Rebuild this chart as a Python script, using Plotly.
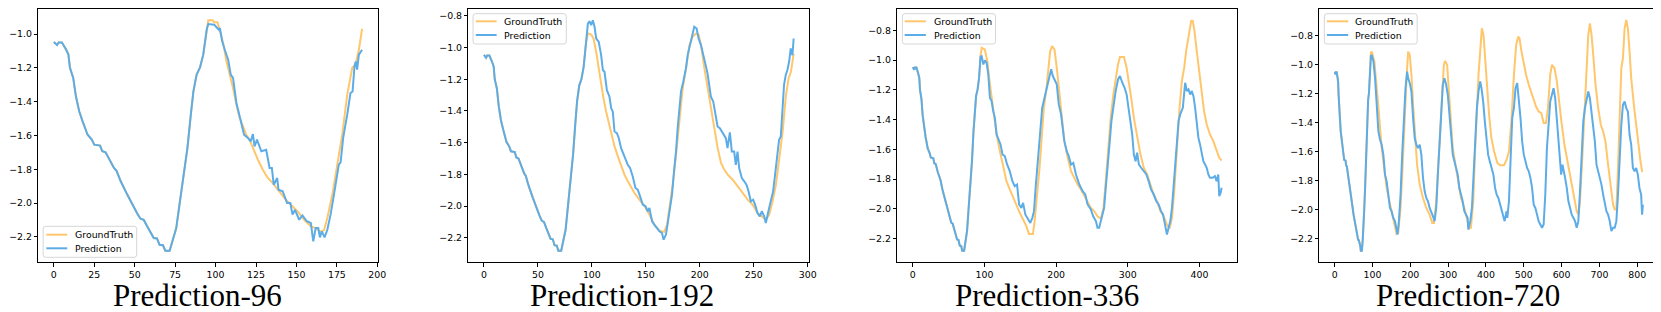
import plotly.graph_objects as go

FIG_W, FIG_H = 1661, 312

# ---------------- data ----------------
# shared look-back window (identical in all four panels)
INPUT_X = [0, 2, 3, 5, 7.5, 9, 10, 12, 13.7, 15.7, 17.8, 20.9, 23.5, 25, 28.6, 30, 32, 34.8,
           37.2, 38.8, 41.3, 45.4, 49.5, 51.5, 53.6, 55.6, 57.7, 59.7, 61.8, 63.8, 65.4, 67.5,
           68.9, 71.6, 74, 75.7, 77.7, 80.2, 82.6, 84.7, 86.3, 88.3, 90.4, 92.4, 94.5]
INPUT_Y = [-1.047, -1.065, -1.05, -1.05, -1.09, -1.12, -1.2, -1.26, -1.37, -1.457, -1.517, -1.596,
           -1.625, -1.655, -1.66, -1.694, -1.70, -1.753, -1.793, -1.81, -1.87, -1.95, -2.03, -2.06,
           -2.093, -2.10, -2.138, -2.168, -2.207, -2.21, -2.247, -2.25, -2.282, -2.282, -2.207,
           -2.148, -2.01, -1.852, -1.675, -1.477, -1.339, -1.24, -1.197, -1.122, -0.975]

# ---- Prediction-96 ----
P96_GT_X = [95.5, 98.2, 99.2, 101.2, 102.7, 104.7, 106.7, 108.8, 110.8, 112.9, 114.9, 117, 119, 121,
            123.1, 126.2, 129.2, 132.3, 135.4, 138.4, 142.5, 146.6, 150.7, 154.8, 158.9, 162, 165,
            167.1, 169.1, 172.2, 175.3, 178.3, 181.4, 184.5, 186.5, 188.6, 190.6]
P96_GT_Y = [-0.919, -0.919, -0.931, -0.931, -0.984, -1.053, -1.16, -1.24, -1.32, -1.418, -1.497,
            -1.546, -1.596, -1.625, -1.675, -1.744, -1.803, -1.852, -1.882, -1.921, -1.97, -2.01,
            -2.049, -2.099, -2.138, -2.148, -2.17, -2.16, -2.089, -1.95, -1.773, -1.596, -1.359,
            -1.2, -1.181, -1.093, -0.969]
P96_PRED_X = [95.5, 99.2, 100.6, 102.1, 102.7, 104.1, 105.7, 107.8, 109.4, 110.8, 112.9, 114.3,
              115.9, 117.6, 120, 121.7, 123.1, 124.1, 125.6, 128.3, 131.3, 133.4, 134.8, 136,
              138.1, 138.9, 141.5, 144.2, 146.2, 147.6, 149.1, 151.7, 153.7, 156.4, 158.9, 160.4,
              161.9, 163.5, 164.5, 165.7, 167.4, 169.1, 171.1, 173.2, 174.8, 176.2, 177.3, 178.9,
              181.4, 183.4, 184.7, 185.9, 186.7, 187.5, 188.6, 190.6]
P96_PRED_Y = [-0.941, -0.945, -0.96, -0.975, -0.965, -1.043, -1.093, -1.152, -1.24, -1.26, -1.408,
              -1.457, -1.527, -1.596, -1.615, -1.635, -1.592, -1.665, -1.625, -1.694, -1.685,
              -1.793, -1.793, -1.892, -1.852, -1.921, -1.93, -2.0, -2.0, -2.069, -2.04, -2.099,
              -2.073, -2.108, -2.118, -2.227, -2.148, -2.148, -2.203, -2.168, -2.203, -2.158,
              -2.069, -1.95, -1.852, -1.773, -1.76, -1.615, -1.477, -1.349, -1.34, -1.191, -1.162,
              -1.211, -1.122, -1.093]

# ---- Prediction-192 ----
P192_GT_X = [96.3, 99.4, 101.5, 104, 106.4, 108.6, 110.8, 113.2, 115.7, 117.9, 121, 124.1, 127.1,
             130.2, 133.3, 136.4, 139.5, 144.1, 148.7, 153.3, 157.9, 162.6, 167.2, 169.7, 172.4,
             174.9, 177.4, 179.5, 181.7, 184.2, 187.3, 190.4, 193.5, 196.6, 199, 201.2, 204.3,
             207.4, 210.5, 213.6, 216.6, 219.7, 222.8, 225.9, 230.5, 235.2, 239.8, 244.4, 249,
             253.7, 258.3, 261.4, 264.4, 267.5, 270.6, 273.7, 276.8, 279.9, 282.3, 284.5, 287]
P192_GT_Y = [-0.911, -0.918, -0.943, -1.027, -1.132, -1.236, -1.32, -1.404, -1.477, -1.55, -1.624,
             -1.687, -1.75, -1.802, -1.844, -1.886, -1.918, -1.96, -2.0, -2.054, -2.117, -2.155,
             -2.163, -2.117, -1.991, -1.865, -1.719, -1.572, -1.425, -1.257, -1.132, -0.985, -0.93,
             -0.911, -0.92, -0.985, -1.132, -1.257, -1.383, -1.53, -1.635, -1.729, -1.771, -1.802,
             -1.834, -1.876, -1.918, -1.96, -1.991, -2.044, -2.07, -2.085, -2.054, -1.97, -1.865,
             -1.698, -1.53, -1.30, -1.195, -1.153, -1.04]
P192_PRED_X = [96.3, 97.8, 99.4, 100.9, 102.5, 104, 106.4, 108.6, 110.2, 111.7, 113.9, 116.3, 117.9,
               119.4, 121, 123.2, 125, 127.1, 129.3, 131.1, 133.3, 135.4, 137.9, 140.4, 142.5,
               144.7, 147.2, 149.6, 151.8, 153.3, 155.8, 157.9, 160.1, 162.6, 165, 166.5, 168.7,
               170.2, 171.8, 174.3, 176.4, 178, 179.5, 181, 182.6, 184.7, 187.2, 188.8, 190.9,
               192.8, 194.9, 197.1, 198.9, 201.1, 203.2, 205.1, 207.2, 208.8, 210.3, 212.5, 214.3,
               216.5, 218.6, 221.1, 224.2, 225.7, 227.9, 229.7, 231.9, 233.4, 235, 236.5, 239,
               241.2, 243.3, 245.2, 247.3, 249.5, 251.3, 253.5, 255.6, 257.5, 259.7, 261.2, 262.7,
               264.3, 265.8, 268, 269.8, 272, 273.5, 275.1, 276.6, 278.1, 279.7, 281.2, 282.8,
               284.3, 285.9, 287]
P192_PRED_Y = [-0.849, -0.834, -0.859, -0.828, -0.869, -0.943, -0.964, -1.048, -1.142, -1.153,
               -1.268, -1.31, -1.383, -1.404, -1.53, -1.54, -1.572, -1.635, -1.677, -1.708, -1.74,
               -1.76, -1.813, -1.886, -1.897, -1.939, -1.991, -2.0, -2.033, -2.012, -2.096, -2.117,
               -2.138, -2.159, -2.17, -2.212, -2.18, -2.117, -2.033, -1.928, -1.76, -1.655, -1.509,
               -1.383, -1.278, -1.216, -1.132, -1.048, -0.985, -0.922, -0.869, -0.88, -0.943,
               -0.985, -1.037, -1.1, -1.163, -1.236, -1.31, -1.341, -1.404, -1.498, -1.509, -1.54,
               -1.572, -1.635, -1.535, -1.656, -1.656, -1.74, -1.656, -1.76, -1.823, -1.844,
               -1.865, -1.907, -1.97, -1.96, -1.991, -2.044, -2.065, -2.033, -2.065, -2.107,
               -2.054, -2.012, -1.97, -1.907, -1.802, -1.677, -1.582, -1.561, -1.425, -1.236,
               -1.173, -1.142, -1.09, -1.006, -1.048, -0.943]

# ---- Prediction-336 ----
P336_GT_X = [96.1, 100.5, 103.9, 107.6, 112.2, 116.9, 121.5, 126.1, 130.7, 135.3, 140, 144.6,
             149.2, 153.9, 158.4, 162.1, 167.7, 170, 173.2, 176.9, 180.2, 182.9, 186.1, 189.4,
             191.7, 194.5, 197.7, 200.9, 204.7, 208.3, 211.5, 216.2, 220.8, 225.4, 230, 234.7,
             239.3, 243.9, 248.5, 253.1, 257.8, 262.4, 266.1, 269.3, 272.5, 276.2, 279.9, 283.1,
             286.4, 289.1, 294.7, 298.4, 301.6, 304.8, 308.5, 313.1, 317.7, 322.4, 327, 331.6,
             336.2, 340.8, 345.5, 350.1, 354.7, 358.4, 361.7, 364.9, 368.6, 372.3, 375.5, 378.8,
             381.5, 384.8, 388.5, 390.8, 393.1, 396.3, 400, 403.2, 406.5, 410.2, 414.8, 419.4,
             424, 427.7, 431]
P336_GT_Y = [-0.917, -0.928, -1.006, -1.163, -1.32, -1.5, -1.612, -1.724, -1.814, -1.87, -1.926,
             -1.982, -2.027, -2.072, -2.117, -2.169, -2.169, -2.083, -1.926, -1.724, -1.5, -1.32,
             -1.208, -1.051, -0.939, -0.905, -0.928, -1.051, -1.231, -1.41, -1.545, -1.657,
             -1.747, -1.792, -1.837, -1.87, -1.915, -1.949, -1.994, -2.016, -2.05, -2.067, -1.994,
             -1.814, -1.612, -1.388, -1.231, -1.119, -1.029, -0.979, -0.979, -1.051, -1.141,
             -1.253, -1.388, -1.522, -1.635, -1.724, -1.769, -1.837, -1.904, -1.949, -2.016,
             -2.05, -2.106, -2.133, -2.061, -1.881, -1.59, -1.32, -1.141, -1.051, -0.939, -0.827,
             -0.737, -0.737, -0.804, -0.939, -1.096, -1.231, -1.343, -1.433, -1.5, -1.545, -1.612,
             -1.657, -1.675]
P336_PRED_X = [96.1, 98.4, 100.7, 103, 105.3, 107.6, 109.9, 112.2, 114.5, 116.9, 119.2, 122.4,
               125.2, 128.4, 131.6, 135.3, 139, 142.2, 145.5, 148.3, 151.5, 153.9, 157, 160.7, 164,
               166.8, 169.1, 171.4, 174.6, 177.8, 180.6, 183.8, 186.1, 188.4, 190.8, 193.1, 195.4,
               197.7, 200.9, 203.7, 206.9, 209.2, 211.5, 214.8, 217.6, 220.8, 224, 227.7, 232.4,
               237, 240.7, 243.9, 248.5, 251.7, 255.5, 257.8, 260.1, 262.4, 264.7, 267, 269.3,
               272.5, 275.3, 277.2, 279.9, 283.1, 286.4, 289.1, 292.4, 295.6, 298.4, 301.6, 303.9,
               306.2, 308.5, 310.9, 313.1, 315.5, 318.7, 322.4, 326, 329.2, 332.5, 336.2, 339.9,
               343.1, 346.4, 349.2, 352.4, 354.7, 357, 359.4, 361.7, 364, 366.3, 368.6, 370.9,
               373.2, 376.9, 380.1, 382.4, 384.8, 387.1, 389.4, 391.7, 394, 396.3, 398.6, 400.9,
               403.2, 405.5, 407.9, 410.2, 412.5, 414.8, 418.5, 421.7, 424, 426.3, 427.7, 429.6, 431]
P336_PRED_Y = [-0.973, -1.029, -1.002, -1.018, -1.096, -1.253, -1.276, -1.343, -1.388, -1.5,
               -1.534, -1.567, -1.635, -1.646, -1.702, -1.747, -1.814, -1.848, -1.837, -1.971,
               -1.994, -1.96, -2.038, -2.072, -2.095, -2.061, -2.016, -1.859, -1.68, -1.522, -1.32,
               -1.253, -1.208, -1.152, -1.119, -1.062, -1.107, -1.13, -1.163, -1.298, -1.365,
               -1.455, -1.545, -1.612, -1.646, -1.702, -1.691, -1.769, -1.837, -1.881, -1.904,
               -1.971, -2.005, -2.05, -2.083, -2.128, -2.128, -2.083, -2.038, -1.994, -1.859,
               -1.702, -1.522, -1.41, -1.298, -1.208, -1.13, -1.107, -1.152, -1.186, -1.231,
               -1.343, -1.433, -1.5, -1.635, -1.68, -1.623, -1.702, -1.724, -1.747, -1.769, -1.814,
               -1.87, -1.904, -1.949, -1.971, -2.016, -2.038, -2.106, -2.173, -2.128, -2.083,
               -1.994, -1.859, -1.68, -1.545, -1.41, -1.365, -1.32, -1.152, -1.208, -1.197, -1.231,
               -1.208, -1.242, -1.32, -1.41, -1.522, -1.567, -1.635, -1.68, -1.702, -1.724, -1.769,
               -1.792, -1.792, -1.78, -1.814, -1.769, -1.915, -1.893, -1.859]

# ---- Prediction-720 ----
P720_GT_X = [95.5, 97.9, 104.9, 111, 117.1, 124.1, 131.1, 137.2, 143.4, 150.3, 157.3, 163.5, 167.8,
             174, 179.2, 183.6, 187.9, 191.4, 194.1, 198.4, 202.8, 207.2, 211.5, 217.7, 224.7,
             233.4, 242.1, 250.9, 257.9, 262.2, 268.4, 274.5, 279.7, 284.1, 288.5, 292, 297.2,
             300.7, 306, 312.1, 319.1, 326.9, 333.9, 342.7, 349.7, 355.8, 360.1, 366.3, 371.5,
             377.6, 380.2, 384.6, 389, 393.4, 397.7, 402.1, 408.2, 414.3, 421.3, 430.1, 437.1,
             447.6, 454.5, 460.8, 467.7, 473.8, 479.9, 485.1, 488.6, 493.9, 500, 506.1, 513.1,
             520.1, 526.2, 532.3, 539.3, 546.3, 552.4, 558.6, 563.8, 569.9, 574.3, 581.3, 587.4,
             593.5, 600.5, 607.5, 613.6, 619.8, 626.7, 633.7, 639.9, 644.2, 648.6, 654.7, 661.7,
             666.1, 670.5, 674.8, 679.2, 683.6, 689.7, 696.7, 703.7, 709.8, 715.9, 722.9, 729.9,
             736, 740.4, 744.8, 749.1, 753.5, 757.9, 762.2, 766.6, 771, 775.3, 779.7, 784.1, 791.1,
             797.2, 803.3, 808.6, 813, 815]
P720_GT_Y = [-0.915, -0.908, -0.977, -1.137, -1.344, -1.573, -1.734, -1.849, -1.929, -2.01, -2.101,
             -2.166, -2.159, -1.987, -1.711, -1.39, -1.206, -1.023, -0.908, -0.931, -1.069, -1.275,
             -1.482, -1.688, -1.826, -1.918, -1.987, -2.033, -2.09, -2.09, -1.941, -1.665, -1.413,
             -1.183, -1.0, -0.972, -1.0, -1.137, -1.344, -1.573, -1.688, -1.803, -1.918, -1.987,
             -2.055, -2.129, -2.124, -1.941, -1.573, -1.206, -1.069, -0.908, -0.747, -0.793,
             -0.954, -1.137, -1.344, -1.505, -1.596, -1.677, -1.693, -1.693, -1.654, -1.596,
             -1.367, -1.069, -0.862, -0.805, -0.816, -0.908, -1.0, -1.069, -1.137, -1.195, -1.229,
             -1.287, -1.321, -1.332, -1.401, -1.401, -1.298, -1.069, -1.0, -1.023, -1.114, -1.275,
             -1.413, -1.551, -1.642, -1.711, -1.826, -1.941, -2.01, -2.033, -1.941, -1.642,
             -1.229, -0.977, -0.793, -0.713, -0.793, -0.931, -1.137, -1.298, -1.413, -1.459,
             -1.528, -1.688, -1.849, -1.964, -1.998, -1.998, -1.711, -1.367, -1.023, -0.954,
             -0.747, -0.69, -0.747, -0.908, -1.091, -1.275, -1.413, -1.573, -1.665, -1.734, -1.734]
P720_PRED_X = [95.5, 97.9, 102.3, 106.6, 111, 115.4, 119.8, 124.1, 128.5, 132.9, 137.2, 141.6, 146,
               150.3, 154.7, 159.1, 163.5, 166.1, 169.6, 174, 178.3, 182.7, 187.1, 191.4, 194.1,
               198.4, 202.8, 207.2, 211.5, 215.9, 220.3, 224.7, 229, 233.4, 237.8, 242.1, 246.5,
               250.9, 255.2, 259.6, 264, 268.4, 272.7, 277.1, 281.5, 285.8, 290.2, 294.6, 299,
               303.3, 307.7, 312.1, 316.4, 320.8, 325.2, 329.5, 333.9, 338.3, 342.7, 347, 351.4,
               353.1, 358.4, 362.8, 367.1, 371.5, 375.9, 380.2, 384.6, 388.1, 392.5, 396.9, 401.2,
               405.6, 410, 414.3, 419.6, 424, 428.3, 432.7, 437.1, 441.4, 445.8, 449.3, 454.5,
               456.3, 460.7, 465, 469.4, 473.8, 478.1, 482.5, 486.9, 491.3, 495.6, 500, 504.4,
               508.7, 513.1, 517.5, 521.9, 526.2, 530.6, 535, 539.3, 543.7, 548.1, 552.4, 556.8,
               561.2, 565.6, 569.9, 574.3, 578.7, 583, 587.4, 591.8, 596.2, 598.8, 602.3, 604.9,
               609.3, 613.6, 618, 622.4, 626.7, 631.1, 635.5, 639.9, 644.2, 648.6, 653, 657.3,
               661.7, 666.1, 670.5, 674.8, 679.2, 683.6, 687.9, 692.3, 696.7, 701, 705.4, 709.8,
               714.2, 718.5, 722.9, 727.3, 731.6, 736, 740.4, 744.8, 749.1, 753.5, 757.9, 762.2,
               766.6, 771, 775.3, 779.7, 784.1, 788.5, 792.8, 797.2, 801.6, 805.9, 810.3, 812.9, 815]
P720_PRED_Y = [-0.94, -0.931, -0.977, -1.091, -1.275, -1.459, -1.516, -1.551, -1.619, -1.757,
               -1.803, -1.895, -1.987, -2.01, -2.055, -2.078, -2.147, -2.17, -2.078, -1.895, -1.619,
               -1.367, -1.16, -1.046, -1.091, -1.126, -1.183, -1.367, -1.505, -1.551, -1.573,
               -1.551, -1.619, -1.78, -1.872, -1.918, -1.941, -1.987, -2.01, -2.044, -2.078,
               -1.987, -1.757, -1.528, -1.275, -1.137, -1.091, -1.137, -1.206, -1.344, -1.528,
               -1.619, -1.665, -1.711, -1.757, -1.849, -1.895, -1.941, -2.01, -2.033, -2.055,
               -2.136, -2.078, -1.987, -1.757, -1.528, -1.298, -1.183, -1.114, -1.16, -1.252, -1.39,
               -1.528, -1.619, -1.665, -1.711, -1.757, -1.849, -1.895, -1.918, -1.964, -2.01,
               -2.055, -2.078, -2.01, -2.055, -1.941, -1.642, -1.367, -1.298, -1.16, -1.126, -1.229,
               -1.367, -1.528, -1.619, -1.665, -1.711, -1.734, -1.78, -1.849, -1.964, -1.987,
               -2.033, -2.078, -2.101, -2.124, -2.101, -1.895, -1.573, -1.39, -1.252, -1.206, -1.16,
               -1.229, -1.367, -1.528, -1.642, -1.757, -1.688, -1.734, -1.78, -1.849, -1.941,
               -1.987, -2.033, -2.055, -2.078, -2.124, -2.078, -1.872, -1.573, -1.39, -1.298,
               -1.229, -1.183, -1.229, -1.321, -1.436, -1.528, -1.688, -1.734, -1.78, -1.826,
               -1.895, -1.964, -2.01, -2.033, -2.078, -2.147, -2.124, -2.124, -2.078, -1.895,
               -1.596, -1.413, -1.275, -1.252, -1.298, -1.321, -1.482, -1.551, -1.711, -1.734,
               -1.711, -1.757, -1.849, -1.895, -2.033, -1.964]

TITLES = ["Prediction-96", "Prediction-192", "Prediction-336", "Prediction-720"]
SERIES_NAMES = ["GroundTruth", "Prediction"]
X_TICKS = [[0, 25, 50, 75, 100, 125, 150, 175, 200],
           [0, 50, 100, 150, 200, 250, 300],
           [0, 100, 200, 300, 400],
           [0, 100, 200, 300, 400, 500, 600, 700, 800]]
Y_TICKS = [[-1.0, -1.2, -1.4, -1.6, -1.8, -2.0, -2.2],
           [-0.8, -1.0, -1.2, -1.4, -1.6, -1.8, -2.0, -2.2],
           [-0.8, -1.0, -1.2, -1.4, -1.6, -1.8, -2.0, -2.2],
           [-0.8, -1.0, -1.2, -1.4, -1.6, -1.8, -2.0, -2.2]]

GT_SETS = [(P96_GT_X, P96_GT_Y), (P192_GT_X, P192_GT_Y), (P336_GT_X, P336_GT_Y), (P720_GT_X, P720_GT_Y)]
PRED_SETS = [(P96_PRED_X, P96_PRED_Y), (P192_PRED_X, P192_PRED_Y), (P336_PRED_X, P336_PRED_Y),
             (P720_PRED_X, P720_PRED_Y)]

# ---------------- styling / layout ----------------
GT_COLOR = "rgb(255,198,108)"
PRED_COLOR = "rgb(92,172,232)"
LINE_W = 2
TICK_FONT = dict(family="DejaVu Sans", size=9.4, color="black")
TITLE_FONT = dict(family="Liberation Serif", size=31, color="black")

# plot-area boxes in pixels (left, right); all share top=1, bottom=254
PLOT_PX = [(30.5, 372.0), (462.7, 805.0), (893.7, 1235.0), (1317.7, 1658.3)]
PLOT_TOP, PLOT_BOTTOM = 1.0, 254.0
X_RANGES = [[-9.55, 200.55], [-14.35, 301.35], [-21.55, 452.55], [-40.75, 855.75]]
Y_RANGES = [[-2.349, -0.852], [-2.353, -0.757], [-2.358, -0.656], [-2.36, -0.614]]
TITLE_CX = [190, 616.5, 1044, 1467.5]
TITLE_CY = 287.5
# legend boxes: (x0, y0, x1, y1), sample (x0, x1), text x, row y's
LEGENDS = [
    ((35.3, 218.3, 129.3, 249.3), (38.5, 59.5), 66.0, (226.7, 240.3)),
    ((467.3, 5.7, 561.0, 36.0), (470.0, 491.0), 497.7, (13.3, 27.0)),
    ((898.7, 5.7, 992.3, 36.0), (901.0, 922.3), 929.3, (13.3, 27.0)),
    ((1322.7, 5.7, 1416.0, 36.0), (1325.3, 1346.7), 1353.0, (13.3, 27.0)),
]


def px(x):
    return x / FIG_W


def py(y):
    return 1 - y / FIG_H


def fmt(v):
    s = f"{v:.1f}"
    return s.replace("-", "\u2212")


def rounded_rect(x0, y0, x1, y1, r=2.5):
    return (f"M {px(x0 + r)},{py(y0)} L {px(x1 - r)},{py(y0)} "
            f"Q {px(x1)},{py(y0)} {px(x1)},{py(y0 + r)} L {px(x1)},{py(y1 - r)} "
            f"Q {px(x1)},{py(y1)} {px(x1 - r)},{py(y1)} L {px(x0 + r)},{py(y1)} "
            f"Q {px(x0)},{py(y1)} {px(x0)},{py(y1 - r)} L {px(x0)},{py(y0 + r)} "
            f"Q {px(x0)},{py(y0)} {px(x0 + r)},{py(y0)} Z")


fig = go.Figure()
shapes = []
annotations = []

for i in range(4):
    n = "" if i == 0 else str(i + 1)
    gx, gy = GT_SETS[i]
    qx, qy = PRED_SETS[i]
    fig.add_trace(go.Scatter(x=INPUT_X + gx, y=INPUT_Y + gy, mode="lines", name=SERIES_NAMES[0],
                             line=dict(color=GT_COLOR, width=LINE_W), showlegend=False,
                             xaxis="x" + n, yaxis="y" + n))
    fig.add_trace(go.Scatter(x=INPUT_X + qx, y=INPUT_Y + qy, mode="lines", name=SERIES_NAMES[1],
                             line=dict(color=PRED_COLOR, width=LINE_W), showlegend=False,
                             xaxis="x" + n, yaxis="y" + n))

    l, r = PLOT_PX[i]
    common = dict(showline=True, mirror=True, linecolor="black", linewidth=1, ticks="outside",
                  ticklen=3.5, tickwidth=1, tickcolor="black", showgrid=False, zeroline=False,
                  tickfont=TICK_FONT, fixedrange=True)
    fig.layout["xaxis" + n] = dict(domain=[px(l), px(r)], anchor="y" + n, range=X_RANGES[i],
                                   tickmode="array", tickvals=X_TICKS[i],
                                   ticktext=[str(v) for v in X_TICKS[i]], **common)
    fig.layout["yaxis" + n] = dict(domain=[py(PLOT_BOTTOM), py(PLOT_TOP)], anchor="x" + n,
                                   range=Y_RANGES[i], tickmode="array", tickvals=Y_TICKS[i],
                                   ticktext=[fmt(v) for v in Y_TICKS[i]], **common)

    # panel caption
    annotations.append(dict(text=TITLES[i], x=px(TITLE_CX[i]), y=py(TITLE_CY), xref="paper",
                            yref="paper", xanchor="center", yanchor="middle", showarrow=False,
                            borderpad=0, font=TITLE_FONT))

    # legend (matplotlib style)
    (bx0, by0, bx1, by1), (sx0, sx1), tx, rows = LEGENDS[i]
    shapes.append(dict(type="path", path=rounded_rect(bx0, by0, bx1, by1), xref="paper",
                       yref="paper", fillcolor="rgba(255,255,255,0.8)",
                       line=dict(color="rgb(214,214,214)", width=1), layer="above"))
    for name, color, ry in zip(SERIES_NAMES, [GT_COLOR, PRED_COLOR], rows):
        shapes.append(dict(type="line", xref="paper", yref="paper", x0=px(sx0), x1=px(sx1),
                           y0=py(ry), y1=py(ry), line=dict(color=color, width=LINE_W),
                           layer="above"))
        annotations.append(dict(text=name, x=px(tx), y=py(ry), xref="paper", yref="paper",
                                xanchor="left", yanchor="middle", showarrow=False, borderpad=0,
                                font=TICK_FONT))

fig.update_layout(width=FIG_W, height=FIG_H, margin=dict(l=0, r=0, t=0, b=0),
                  paper_bgcolor="white", plot_bgcolor="white", showlegend=False,
                  shapes=shapes, annotations=annotations)

fig.write_html("out.html")
